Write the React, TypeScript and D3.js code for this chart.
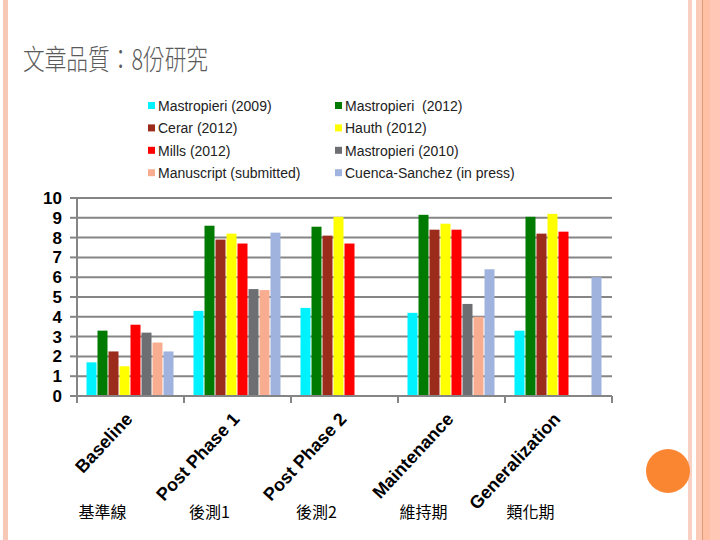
import React from "react";
import * as d3 from "d3";

const categories = ["Baseline", "Post Phase 1", "Post Phase 2", "Maintenance", "Generalization"];
const chineseLabels = ["基準線", "後測1", "後測2", "維持期", "類化期"];

const seriesNames = [
  "Mastropieri (2009)",
  "Mastropieri\u00A0 (2012)",
  "Cerar (2012)",
  "Hauth (2012)",
  "Mills (2012)",
  "Mastropieri (2010)",
  "Manuscript (submitted)",
  "Cuenca-Sanchez (in press)",
];

// one array per study, one value per phase (null = no bar)
const mastropieri2009 = [1.7, 4.3, 4.45, 4.2, 3.3];
const mastropieri2012 = [3.3, 8.6, 8.55, 9.15, 9.05];
const cerar2012 = [2.25, 7.9, 8.1, 8.4, 8.2];
const hauth2012 = [1.5, 8.2, 9.05, 8.7, 9.2];
const mills2012 = [3.6, 7.7, 7.7, 8.4, 8.3];
const mastropieri2010 = [3.2, 5.4, null, 4.65, null];
const manuscript = [2.7, 5.35, null, 4.0, null];
const cuencaSanchez = [2.25, 8.25, null, 6.4, 6.0];

const seriesValues = [
  mastropieri2009,
  mastropieri2012,
  cerar2012,
  hauth2012,
  mills2012,
  mastropieri2010,
  manuscript,
  cuencaSanchez,
];

const yTicks = [0, 1, 2, 3, 4, 5, 6, 7, 8, 9, 10];

const colors = ["#00F2FF", "#007A00", "#9B2B1B", "#FFFF00", "#FF0000", "#6D6E72", "#F9AD90", "#9FB3DE"];

const width = 720;
const height = 540;
const margin = { top: 198, right: 108, bottom: 144, left: 77 };

export default function App() {
  const x0 = d3
    .scaleBand<string>()
    .domain(categories)
    .range([margin.left, width - margin.right]);

  const x1 = d3
    .scaleBand<number>()
    .domain(d3.range(seriesNames.length))
    .range([9.5, x0.bandwidth() - 9.5]);

  const y = d3
    .scaleLinear()
    .domain([0, 10])
    .range([height - margin.bottom, margin.top]);

  const y0 = y(0);
  const gridColor = "#858585";

  return (
    <svg
      width={width}
      height={height}
      viewBox={`0 0 ${width} ${height}`}
      style={{ position: "absolute", left: 0, top: 0, background: "#fff" }}
    >
      {/* slide decoration */}
      <rect x={3} y={0} width={5} height={height} fill="#F8C8B6" />
      <rect x={688} y={0} width={4} height={height} fill="#F9D0C2" />
      <rect x={696} y={0} width={6} height={height} fill="#FCCBB8" />
      <rect x={702} y={0} width={1} height={height} fill="#E09A78" />
      <rect x={703} y={0} width={7} height={height} fill="#FFC0A6" />
      <rect x={710} y={0} width={10} height={height} fill="#FFC8B6" />
      <circle cx={668} cy={471} r={22} fill="#FA8632" />

      {/* title */}
      <text
        x={23}
        y={70}
        fontFamily="'Noto Sans CJK TC', sans-serif"
        fontWeight={300}
        fontSize={28}
        fill="#5A5A5A"
        textLength={185}
        lengthAdjust="spacingAndGlyphs"
      >
        文章品質：8份研究
      </text>

      {/* legend */}
      <g fontFamily="Arial, 'Liberation Sans', sans-serif" fontSize={14} fill="#222">
        {seriesNames.map((name, i) => {
          const col = i % 2;
          const row = Math.floor(i / 2);
          const lx = col === 0 ? 148 : 335;
          const ly = 106 + row * 22.4;
          return (
            <g key={name} transform={`translate(${lx},${ly})`}>
              <rect x={0} y={-4} width={7} height={7} fill={colors[i]} />
              <text x={10} y={5}>
                {name}
              </text>
            </g>
          );
        })}
      </g>

      {/* gridlines */}
      <g>
        {yTicks.slice(1).map((t) => (
          <line
            key={t}
            x1={margin.left}
            x2={width - margin.right}
            y1={y(t)}
            y2={y(t)}
            stroke={gridColor}
            strokeWidth={2}
          />
        ))}
      </g>

      {/* bars */}
      <g>
        {categories.map((c, ci) => (
          <g key={c} transform={`translate(${x0(c)},0)`}>
            {seriesValues.map((vals, si) => {
              const v = vals[ci];
              if (v == null) return null;
              return (
                <rect
                  key={si}
                  x={x1(si)}
                  y={y(v)}
                  width={x1.bandwidth() - 1}
                  height={y0 - y(v)}
                  fill={colors[si]}
                />
              );
            })}
          </g>
        ))}
      </g>

      {/* y axis */}
      <g fontFamily="Arial, 'Liberation Sans', sans-serif" fontWeight="bold" fontSize={17} fill="#000">
        <line x1={margin.left} x2={margin.left} y1={y(10)} y2={y0} stroke={gridColor} strokeWidth={2} />
        {yTicks.map((t) => (
          <g key={t}>
            <line x1={margin.left - 7} x2={margin.left} y1={y(t)} y2={y(t)} stroke={gridColor} strokeWidth={2} />
            <text x={62} y={y(t) + 6} textAnchor="end">
              {t}
            </text>
          </g>
        ))}
      </g>

      {/* x axis */}
      <g>
        <line x1={margin.left} x2={width - margin.right} y1={y0} y2={y0} stroke={gridColor} strokeWidth={2} />
        {[...categories.map((c) => x0(c) as number), width - margin.right].map((tx, i) => (
          <line key={i} x1={tx} x2={tx} y1={y0} y2={y0 + 7} stroke={gridColor} strokeWidth={2} />
        ))}
        {categories.map((c) => {
          const cx = (x0(c) as number) + x0.bandwidth() / 2;
          return (
            <text
              key={c}
              transform={`translate(${cx + 3},${y0 + 24}) rotate(-47)`}
              textAnchor="end"
              fontFamily="Arial, 'Liberation Sans', sans-serif"
              fontWeight="bold"
              fontSize={18}
              fill="#000"
            >
              {c}
            </text>
          );
        })}
        {categories.map((c, i) => {
          const cx = (x0(c) as number) + x0.bandwidth() / 2;
          return (
            <text
              key={c + "zh"}
              x={cx - 28}
              y={518}
              textAnchor="middle"
              fontFamily="'Noto Sans CJK TC', sans-serif"
              fontSize={16}
              fill="#000"
            >
              {chineseLabels[i]}
            </text>
          );
        })}
      </g>
    </svg>
  );
}
